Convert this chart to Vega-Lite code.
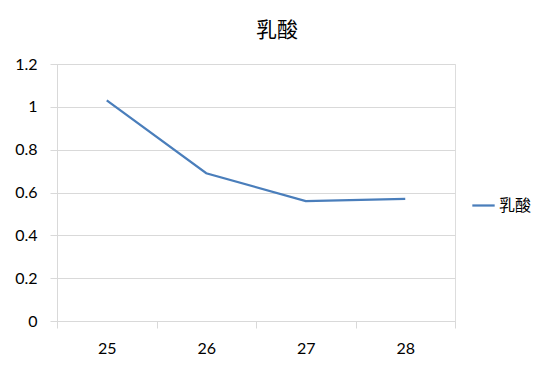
{
  "$schema": "https://vega.github.io/schema/vega-lite/v6.json",
  "width": 398,
  "height": 257,
  "autosize": "none",
  "padding": {"left": 57, "top": 64, "right": 98, "bottom": 50},
  "background": "white",
  "title": {"text": "乳酸", "font": "Noto Sans CJK SC", "fontSize": 21, "fontWeight": "normal", "color": "#000000", "dx": 21, "offset": 15},
  "data": {"values": [
    {"temp": "25", "value": 1.03, "series": "乳酸"},
    {"temp": "26", "value": 0.69, "series": "乳酸"},
    {"temp": "27", "value": 0.56, "series": "乳酸"},
    {"temp": "28", "value": 0.57, "series": "乳酸"}
  ]},
  "mark": {"type": "line", "strokeWidth": 2.25},
  "encoding": {
    "x": {"field": "temp", "type": "ordinal",
      "scale": {"type": "band", "paddingInner": 0, "paddingOuter": 0},
      "axis": {"title": null, "labelAngle": 0, "tickBand": "extent", "domainColor": "#d9d9d9", "tickColor": "#d9d9d9", "tickSize": 7, "labelPadding": 12, "labelFontSize": 16, "labelFont": "Lato", "labelColor": "#000000", "grid": false}},
    "y": {"field": "value", "type": "quantitative",
      "scale": {"domain": [0, 1.2], "nice": false},
      "axis": {"title": null, "values": [0, 0.2, 0.4, 0.6, 0.8, 1, 1.2], "format": "~g", "domainColor": "#d9d9d9", "tickColor": "#d9d9d9", "gridColor": "#d9d9d9", "tickSize": 7, "labelPadding": 13, "labelFontSize": 16, "labelFont": "Lato", "labelColor": "#000000"}},
    "color": {"field": "series", "type": "nominal",
      "scale": {"range": ["#4A7EBB"]},
      "legend": {"title": null, "orient": "none", "legendX": 414, "legendY": 129, "symbolType": "stroke", "symbolSize": 500, "symbolStrokeWidth": 2.25, "labelFont": "Noto Sans CJK SC", "labelFontSize": 16, "labelColor": "#000000", "labelOffset": 3}}
  }
}
